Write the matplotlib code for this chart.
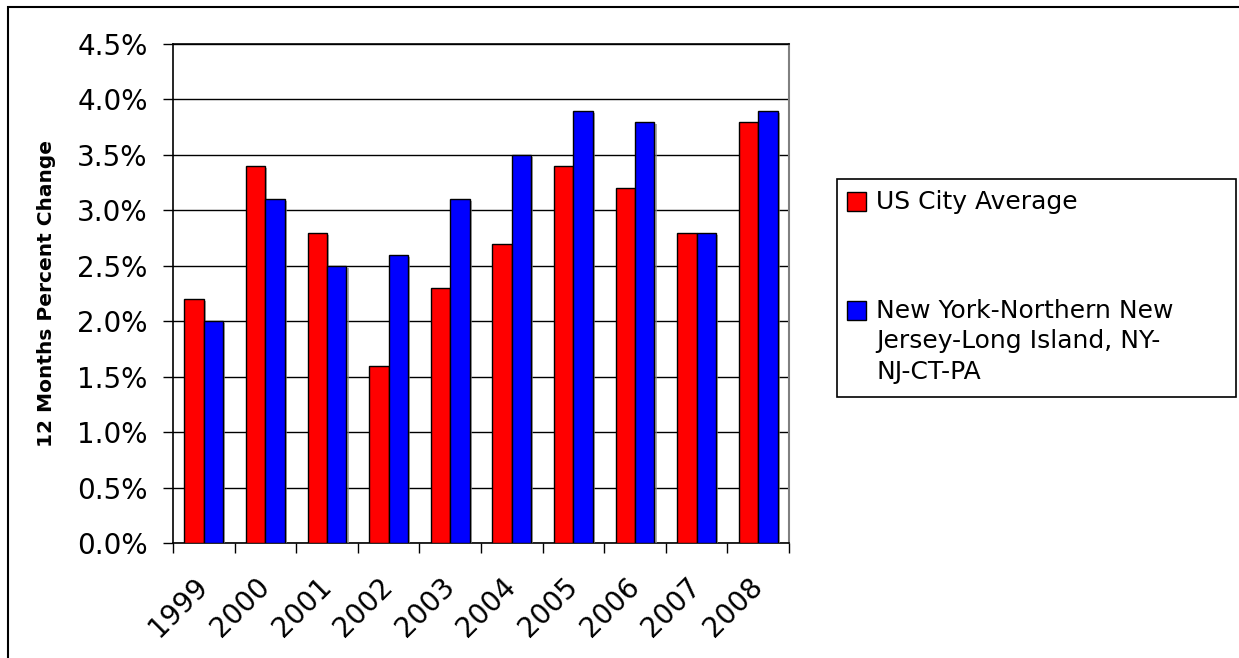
import matplotlib
matplotlib.use("Agg")
import matplotlib.pyplot as plt
import matplotlib.patheffects as pe
from matplotlib.patches import Rectangle
from matplotlib.transforms import ScaledTranslation
import numpy as np

years = ["1999", "2000", "2001", "2002", "2003", "2004", "2005", "2006", "2007", "2008"]
us_city_avg = [2.2, 3.4, 2.8, 1.6, 2.3, 2.7, 3.4, 3.2, 2.8, 3.8]
ny_area = [2.0, 3.1, 2.5, 2.6, 3.1, 3.5, 3.9, 3.8, 2.8, 3.9]
series_names = ["US City Average",
                "New York-Northern New\nJersey-Long Island, NY-\nNJ-CT-PA"]
y_ticks = [0.0, 0.5, 1.0, 1.5, 2.0, 2.5, 3.0, 3.5, 4.0, 4.5]

W, H = 1239, 658
plt.rcParams['font.family'] = ['DejaVu Sans']
fig = plt.figure(figsize=(W / 100, H / 100), dpi=100)
fig.patch.set_facecolor('white')

def fx(px):
    return px / W

def fy(py):
    return 1 - py / H

# figure border
fig.add_artist(Rectangle((fx(8), fy(700)), fx(1300) - fx(8), fy(7) - fy(700),
                         transform=fig.transFigure, fill=False,
                         edgecolor='black', linewidth=1.5))

ax = fig.add_axes([fx(173), fy(543), fx(789) - fx(173), fy(44) - fy(543)])
x = np.arange(len(years))
bw = 0.316
shadow = [pe.SimplePatchShadow(offset=(1.5, -1.5), shadow_rgbFace='#888888', alpha=0.7), pe.Normal()]
b1 = ax.bar(x - bw / 2, us_city_avg, bw, color='#ff0000', edgecolor='black', linewidth=1, zorder=3)
b2 = ax.bar(x + bw / 2, ny_area, bw, color='#0000ff', edgecolor='black', linewidth=1, zorder=3)
for b in list(b1) + list(b2):
    b.set_path_effects(shadow)

ax.set_xlim(-0.5, len(years) - 0.5)
ax.set_ylim(0, 4.5)
ax.set_yticks(y_ticks)
ax.set_yticklabels([f"{v:.1f}%" for v in y_ticks], fontsize=20)
ax.yaxis.grid(True, color='black', linewidth=1, zorder=0)
ax.set_axisbelow(True)

ax.set_xticks(np.arange(len(years) + 1) - 0.5)
ax.set_xticklabels([])
ax.set_xticks(x, minor=True)
ax.set_xticklabels(years, minor=True, fontsize=20, rotation=45, ha='right',
                   va='center', rotation_mode='anchor')
shift = ScaledTranslation(-10 / 100, 0, fig.dpi_scale_trans)
for lab in ax.get_xticklabels(minor=True):
    lab.set_transform(lab.get_transform() + shift)
ax.tick_params(axis='x', which='minor', length=0, pad=28)
ax.tick_params(axis='x', which='major', length=7, width=1, direction='out')
ax.tick_params(axis='y', length=7.2, width=1, direction='out', pad=11)

for s in ['left', 'bottom', 'top']:
    ax.spines[s].set_color('black')
    ax.spines[s].set_linewidth(1.2)
ax.spines['right'].set_color('#808080')
ax.spines['right'].set_linewidth(1.5)

ax.set_ylabel("12 Months Percent Change", fontsize=14.5, fontweight='bold', labelpad=15)

# legend (drawn manually to mimic layout)
fig.add_artist(Rectangle((fx(837), fy(397)), fx(1236) - fx(837), fy(179) - fy(397),
                         transform=fig.transFigure, facecolor='white',
                         edgecolor='black', linewidth=1.2))
legend_colors = ['#ff0000', '#0000ff']
legend_tops = [192, 301]
for name, col, top in zip(series_names, legend_colors, legend_tops):
    fig.add_artist(Rectangle((fx(847), fy(top + 19)), fx(866) - fx(847), fy(top) - fy(top + 19),
                             transform=fig.transFigure, facecolor=col,
                             edgecolor='black', linewidth=1))
    fig.text(fx(876), fy(top - 2), name, fontsize=18, ha='left', va='top',
             linespacing=1.33, color='black')

fig.savefig("out.png", dpi=100, facecolor='white')
